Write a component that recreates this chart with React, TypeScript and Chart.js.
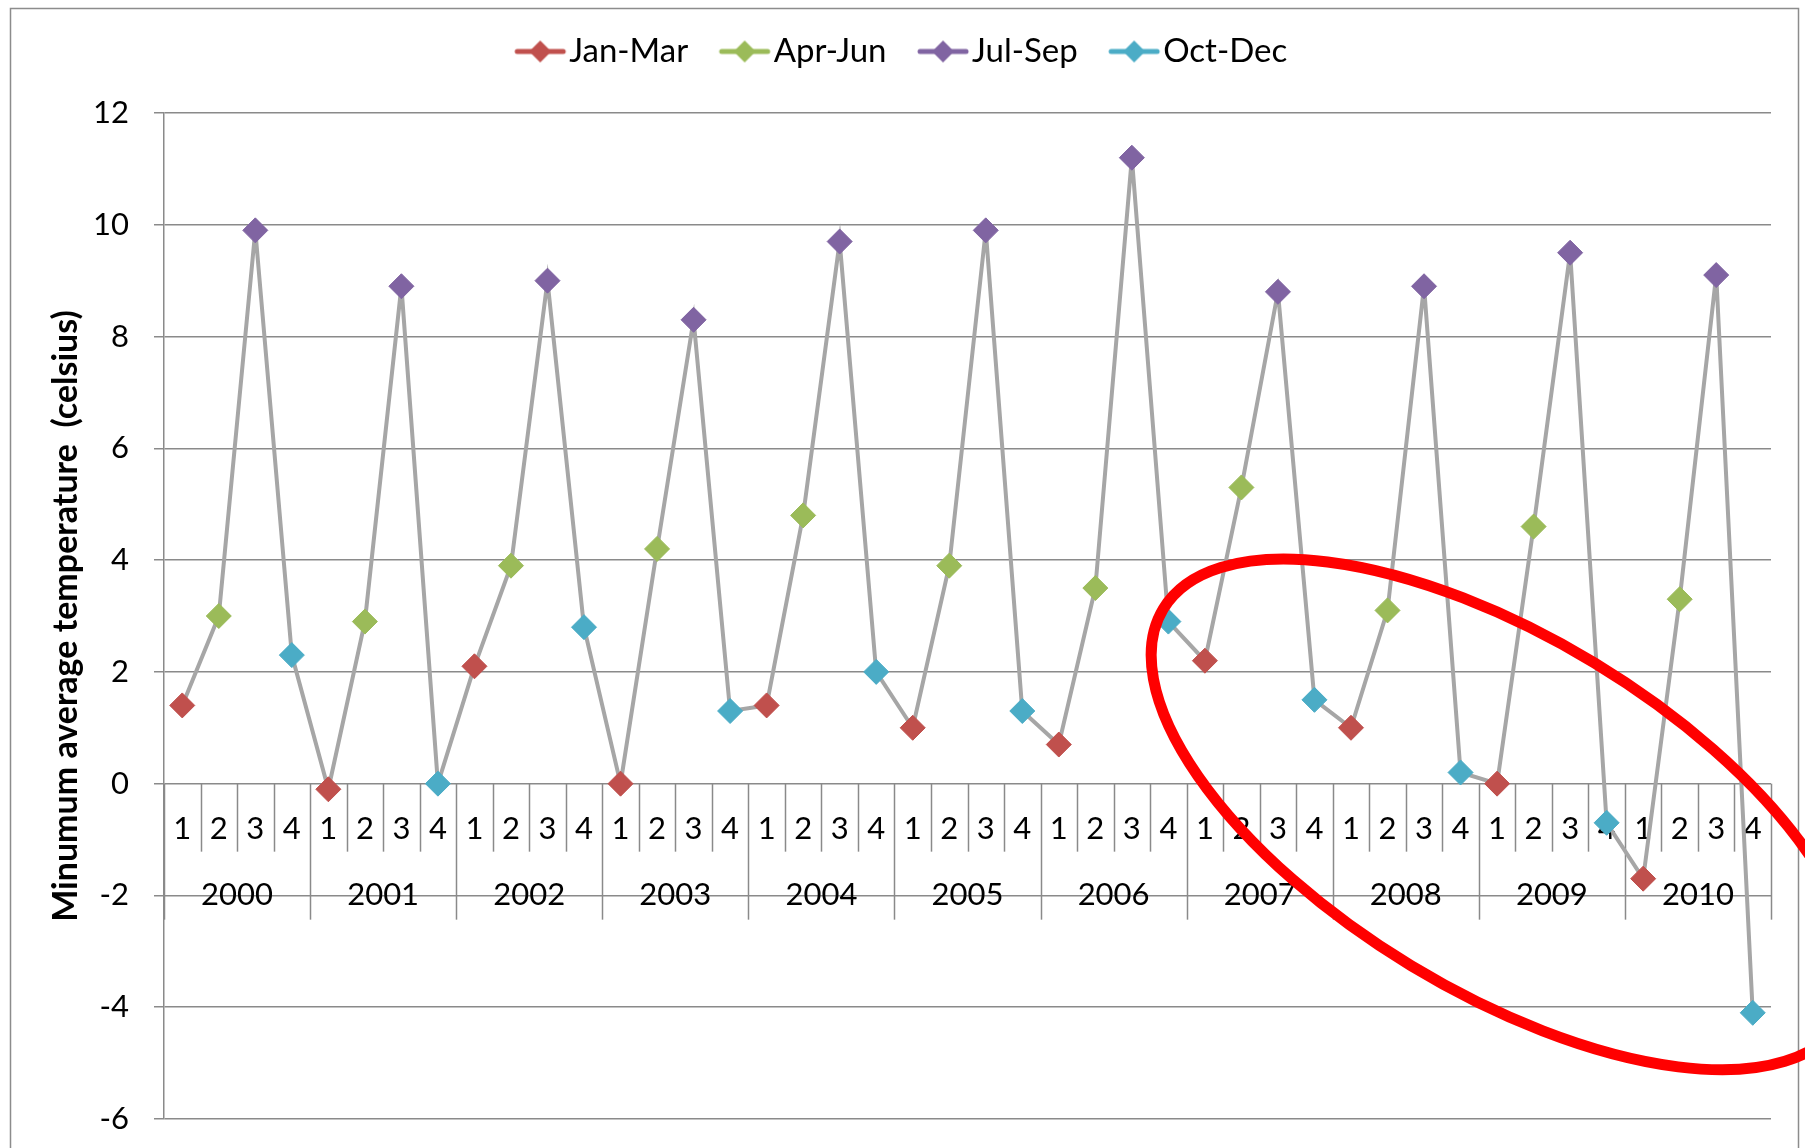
import React, { useEffect, useRef } from 'react';
import { Chart, registerables } from 'chart.js';

Chart.register(...registerables);

// ---- data ----
const years = ['2000', '2001', '2002', '2003', '2004', '2005', '2006', '2007', '2008', '2009', '2010'];
const quarters = ['1', '2', '3', '4'];
const seriesNames = ['Jan-Mar', 'Apr-Jun', 'Jul-Sep', 'Oct-Dec'];
const janMar = [1.4, -0.1, 2.1, 0.0, 1.4, 1.0, 0.7, 2.2, 1.0, 0.0, -1.7];
const aprJun = [3.0, 2.9, 3.9, 4.2, 4.8, 3.9, 3.5, 5.3, 3.1, 4.6, 3.3];
const julSep = [9.9, 8.9, 9.0, 8.3, 9.7, 9.9, 11.2, 8.8, 8.9, 9.5, 9.1];
const octDec = [2.3, 0.0, 2.8, 1.3, 2.0, 1.3, 2.9, 1.5, 0.2, -0.7, -4.1];
const yMin = -6;
const yMax = 12;
const yStep = 2;
const yTitle = 'Minumum average temperature  (celsius)';

// annotation: ellipse centre in data units (category index, value)
const ellipseCenter = { index: 36.16, value: -0.55 };

// ---- styles ----
const seriesColors = ['#C0504D', '#9BBB59', '#8064A2', '#4BACC6'];
const lineColor = '#A6A6A6';
const gridColor = '#8A8A8A';
const FONT = 'Lato, "Open Sans", sans-serif';

const seriesValues = [janMar, aprJun, julSep, octDec];
const categoryLabels = years.flatMap((y) => quarters.map((q) => `${y} Q${q}`));
const allValues = years.flatMap((_, yi) => seriesValues.map((s) => s[yi]));

function makeLegendIcon(color: string): HTMLCanvasElement {
  const c = document.createElement('canvas');
  c.width = 100;
  c.height = 26;
  const ctx = c.getContext('2d')!;
  ctx.strokeStyle = color;
  ctx.lineWidth = 5;
  ctx.lineCap = 'round';
  ctx.beginPath();
  ctx.moveTo(44, 13);
  ctx.lineTo(90, 13);
  ctx.stroke();
  ctx.fillStyle = color;
  const cx = 67;
  const r = 11;
  ctx.beginPath();
  ctx.moveTo(cx, 13 - r);
  ctx.lineTo(cx + r, 13);
  ctx.lineTo(cx, 13 + r);
  ctx.lineTo(cx - r, 13);
  ctx.closePath();
  ctx.fill();
  return c;
}

const framePlugin = {
  id: 'frame',
  beforeDraw(chart: any) {
    const { ctx } = chart;
    ctx.save();
    ctx.fillStyle = '#ffffff';
    ctx.fillRect(0, 0, chart.width, chart.height);
    ctx.strokeStyle = '#8C8C8C';
    ctx.lineWidth = 1.5;
    ctx.strokeRect(10.5, 8.5, chart.width - 17, chart.height + 20);
    ctx.restore();
  },
};

const yearAxisPlugin = {
  id: 'yearAxis',
  beforeDatasetsDraw(chart: any) {
    const { ctx } = chart;
    const xs = chart.scales.x;
    const ys = chart.scales.y;
    const y0 = ys.getPixelForValue(0);
    const n = categoryLabels.length;
    const half = (xs.getPixelForValue(1) - xs.getPixelForValue(0)) / 2;
    ctx.save();
    ctx.strokeStyle = gridColor;
    ctx.lineWidth = 1.5;
    for (let i = 0; i <= n; i++) {
      const x = i < n ? xs.getPixelForValue(i) - half : xs.getPixelForValue(n - 1) + half;
      const len = i % quarters.length === 0 ? 136 : 68;
      ctx.beginPath();
      ctx.moveTo(Math.round(x) + 0.5, y0);
      ctx.lineTo(Math.round(x) + 0.5, y0 + len);
      ctx.stroke();
    }
    ctx.fillStyle = '#000';
    ctx.font = `31px ${FONT}`;
    ctx.textAlign = 'center';
    ctx.textBaseline = 'middle';
    years.forEach((yr, yi) => {
      const a = xs.getPixelForValue(yi * 4);
      const b = xs.getPixelForValue(yi * 4 + 3);
      ctx.fillText(yr, (a + b) / 2, y0 + 111);
    });
    ctx.restore();
  },
};

const ellipsePlugin = {
  id: 'ellipse',
  afterDraw(chart: any) {
    const { ctx } = chart;
    const cx = chart.scales.x.getPixelForValue(ellipseCenter.index);
    const cy = chart.scales.y.getPixelForValue(ellipseCenter.value);
    ctx.save();
    ctx.strokeStyle = '#FF0000';
    ctx.lineWidth = 11;
    ctx.beginPath();
    ctx.ellipse(cx, cy, 397, 177, (31.2 * Math.PI) / 180, 0, Math.PI * 2);
    ctx.stroke();
    ctx.restore();
  },
};

export default function App() {
  const ref = useRef<HTMLCanvasElement | null>(null);

  useEffect(() => {
    if (!ref.current) return;
    const icons = seriesColors.map(makeLegendIcon);

    const quarterSets = seriesNames.map((name, q) => ({
      label: name,
      data: categoryLabels.map((_, i) => (i % 4 === q ? seriesValues[q][Math.floor(i / 4)] : null)),
      showLine: false,
      pointStyle: 'rectRot',
      pointRadius: 12.5,
      pointBorderWidth: 1,
      pointBackgroundColor: seriesColors[q],
      pointBorderColor: seriesColors[q],
      backgroundColor: seriesColors[q],
      borderColor: seriesColors[q],
    }));

    const chart = new Chart(ref.current, {
      type: 'line',
      data: {
        labels: categoryLabels,
        datasets: [
          ...quarterSets,
          {
            label: 'all',
            data: allValues,
            borderColor: lineColor,
            borderWidth: 4,
            pointRadius: 0,
            tension: 0,
            fill: false,
          },
        ] as any,
      },
      plugins: [framePlugin, yearAxisPlugin, ellipsePlugin],
      options: {
        responsive: false,
        animation: false,
        events: [],
        layout: { padding: { top: 25, left: 10, right: 34, bottom: 29 } },
        plugins: {
          tooltip: { enabled: false },
          title: {
            display: true,
            text: '',
            weight: 500,
            font: { size: 10 },
            padding: { top: 23, bottom: 0 },
          } as any,
          legend: {
            display: true,
            position: 'top',
            labels: {
              usePointStyle: true,
              pointStyleWidth: 59,
              padding: 10,
              color: '#000',
              font: { family: FONT, size: 33 },
              generateLabels: (c: any) => {
                const base = (Chart.defaults.plugins.legend.labels as any).generateLabels(c);
                return base
                  .filter((it: any) => it.datasetIndex < seriesNames.length)
                  .map((it: any) => ({ ...it, pointStyle: icons[it.datasetIndex] }));
              },
            },
          },
        },
        scales: {
          x: {
            type: 'category',
            offset: true,
            position: { y: 0 } as any,
            grid: { display: false, drawTicks: false },
            border: { display: false },
            ticks: {
              autoSkip: false,
              maxRotation: 0,
              minRotation: 0,
              padding: 27,
              color: '#000',
              font: { family: FONT, size: 31 },
              callback: (_v: any, i: number) => quarters[i % quarters.length],
            },
          },
          y: {
            min: yMin,
            max: yMax,
            ticks: {
              stepSize: yStep,
              padding: 25,
              color: '#000',
              font: { family: FONT, size: 31 },
            },
            grid: { color: gridColor, lineWidth: 1.5, tickLength: 10, drawTicks: true },
            border: { display: true, color: gridColor, width: 1.5 },
            title: {
              display: true,
              text: yTitle,
              color: '#000',
              font: { family: FONT, size: 34, weight: 'bold' },
              padding: { top: 35.6, bottom: 0 },
            },
            afterFit: (scale: any) => {
              scale.width = 154;
              scale.paddingTop = 0;
              scale.paddingBottom = 0;
            },
          },
        },
      } as any,
    });
    return () => chart.destroy();
  }, []);

  return (
    <div style={{ position: 'fixed', left: 0, top: 0, width: 1805, height: 1148, background: '#fff' }}>
      <canvas ref={ref} width={1805} height={1148} style={{ display: 'block' }} />
    </div>
  );
}
